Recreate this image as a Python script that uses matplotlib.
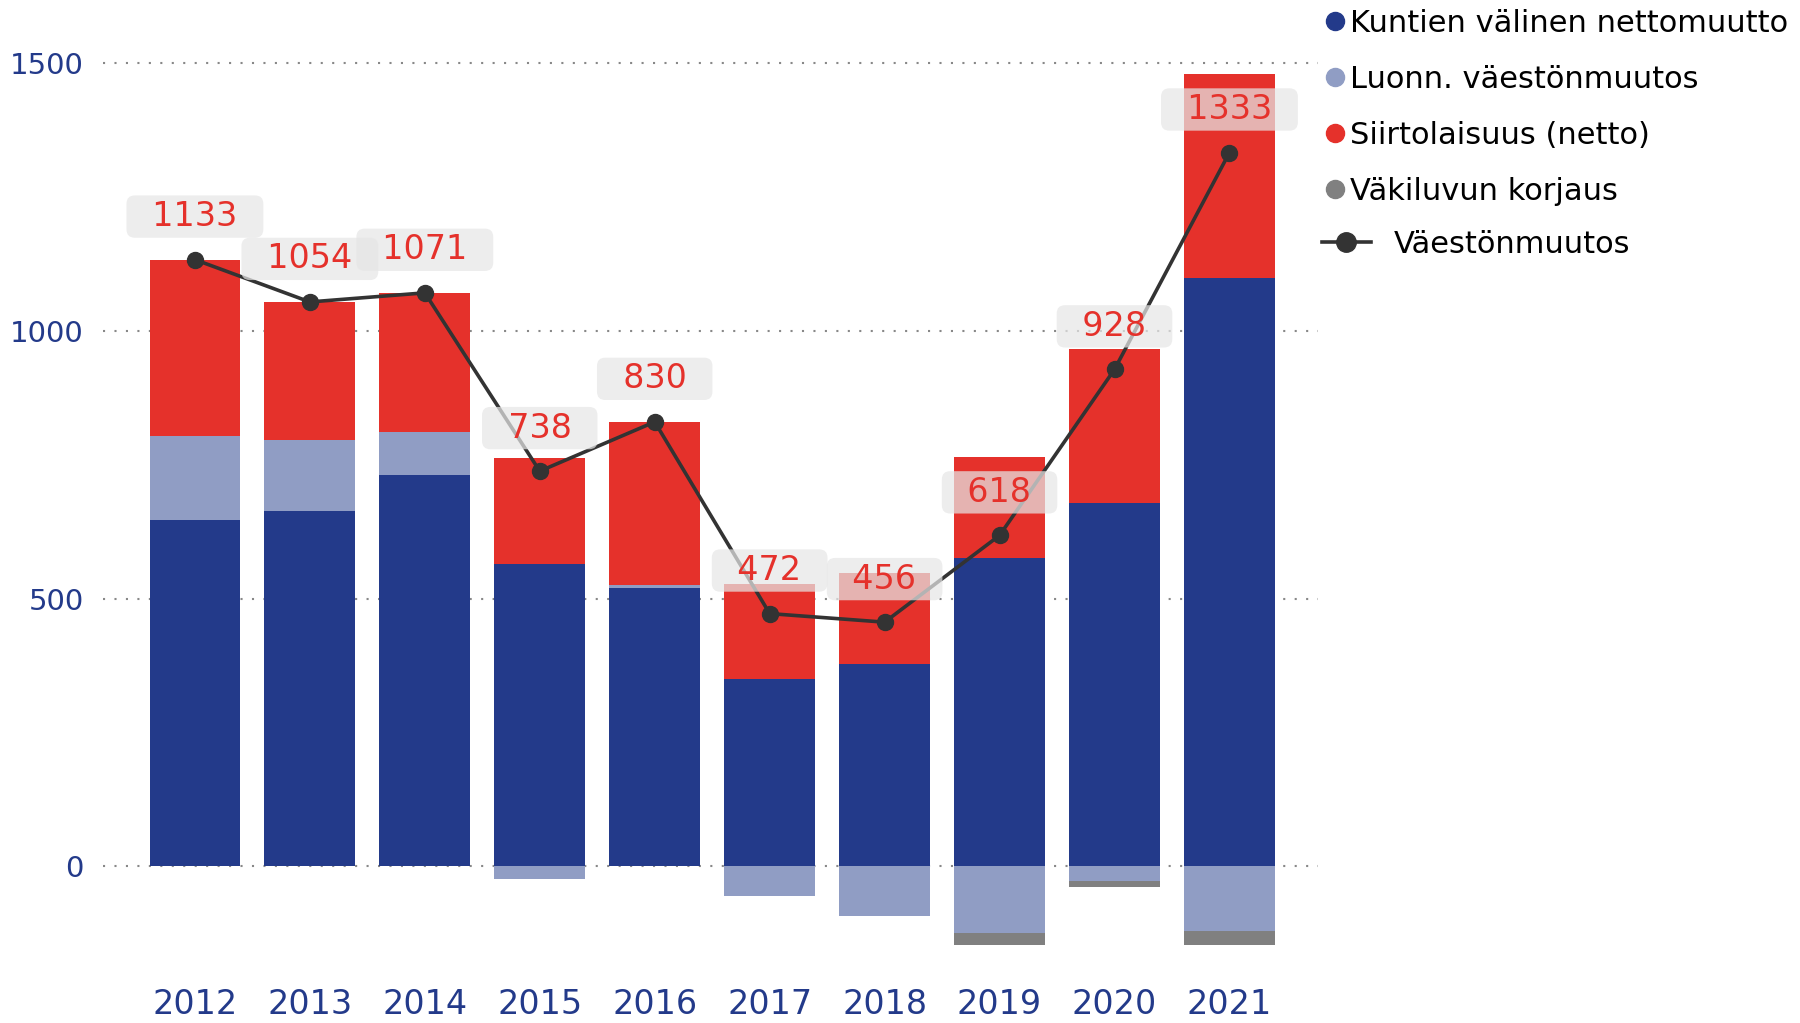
import numpy as np
import matplotlib
matplotlib.use('Agg')
import matplotlib.pyplot as plt
from matplotlib.lines import Line2D

# data
years = ['2012', '2013', '2014', '2015', '2016', '2017', '2018', '2019', '2020', '2021']
kuntien = [646, 663, 730, 564, 519, 350, 378, 575, 678, 1099]
luonn = [157, 133, 81, -24, 7, -56, -92, -124, -28, -120]
siirto = [330, 258, 260, 198, 304, 178, 170, 189, 289, 380]
korjaus = [0, 0, 0, 0, 0, 0, 0, -22, -11, -26]
vaestonmuutos = [1133, 1054, 1071, 738, 830, 472, 456, 618, 928, 1333]

labels = ['Kuntien välinen nettomuutto', 'Luonn. väestönmuutos',
          'Siirtolaisuus (netto)', 'Väkiluvun korjaus']
colors = ['#233a8a', '#909dc4', '#e5312b', '#808080']
blue_txt = '#233a8a'

fig = plt.figure(figsize=(18, 10.23), dpi=100)
ax = fig.add_axes([0.0572, 0.0694, 0.675, 0.9003])

x = np.arange(len(years))
pos_base = np.zeros(len(years))
neg_base = np.zeros(len(years))
for series, col in zip([kuntien, luonn, siirto, korjaus], colors):
    v = np.array(series, dtype=float)
    bottom = np.where(v >= 0, pos_base, neg_base)
    ax.bar(x, v, 0.79, bottom=bottom, color=col, zorder=2)
    pos_base += np.where(v >= 0, v, 0)
    neg_base += np.where(v < 0, v, 0)

ax.plot(x, vaestonmuutos, color='#333333', lw=2.6, marker='o', ms=11.5, zorder=3)

# value labels in translucent boxes
for xi, val in zip(x, vaestonmuutos):
    ax.annotate('  %d  ' % val, (xi, val), xytext=(0, 31), textcoords='offset points',
                ha='center', va='center', fontsize=24, color='#e5312b', zorder=4,
                bbox=dict(boxstyle='round,pad=0.14,rounding_size=0.25',
                          fc='#e6e6e6', ec='none', alpha=0.72))

ax.set_xlim(-0.8, 9.77)
ax.set_ylim(-160, 1560)
ax.set_yticks([0, 500, 1000, 1500])
ax.set_xticks(x)
ax.set_xticklabels(years)
ax.tick_params(axis='x', length=0, pad=26, labelsize=24, labelcolor=blue_txt)
ax.tick_params(axis='y', length=0, pad=14, labelsize=21, labelcolor=blue_txt)
ax.grid(axis='y', color='#888888', lw=1.5, linestyle=(0, (1, 4.5)), zorder=0)
for s in ax.spines.values():
    s.set_visible(False)

# legend: bar series as dots, then the line
h1 = [Line2D([], [], marker='o', ls='none', color=c, ms=13) for c in colors]
leg1 = fig.legend(h1, labels, loc='center left', bbox_to_anchor=(0.7356, 0.895),
                  frameon=False, fontsize=22, handlelength=0.7, handletextpad=0.16,
                  labelspacing=0.88, borderpad=0, borderaxespad=0)
h2 = [Line2D([], [], marker='o', color='#333333', lw=2.6, ms=14)]
leg2 = fig.legend(h2, ['Väestönmuutos'], loc='center left', bbox_to_anchor=(0.7344, 0.761),
                  frameon=False, fontsize=22, handlelength=1.6, handletextpad=0.75,
                  borderpad=0, borderaxespad=0)

plt.savefig('out.png', dpi=100)
